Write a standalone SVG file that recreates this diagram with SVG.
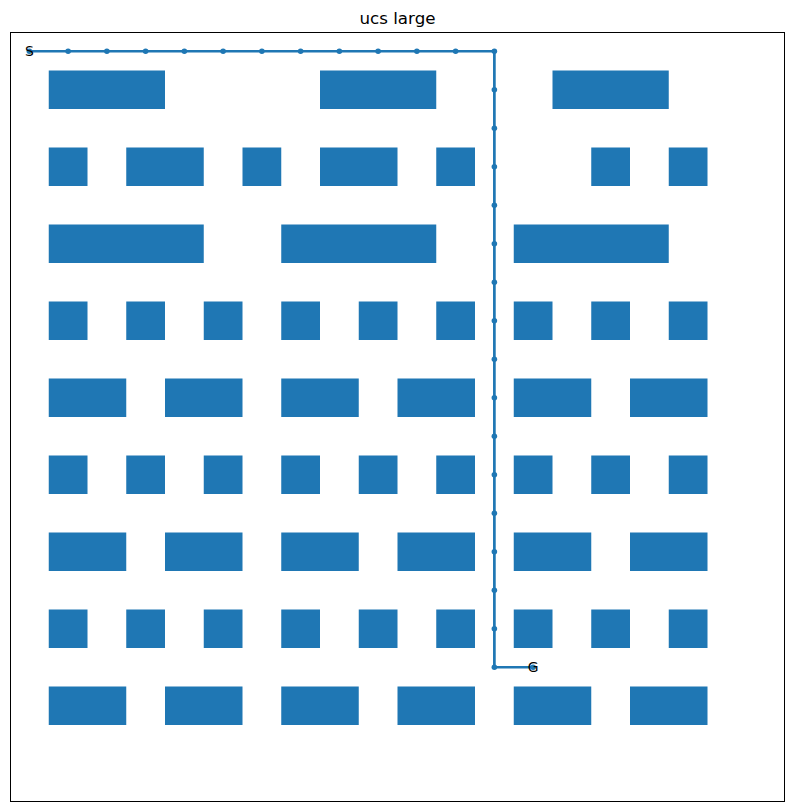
<svg xmlns="http://www.w3.org/2000/svg" xmlns:xlink="http://www.w3.org/1999/xlink" width="794" height="812" viewBox="0 0 794 812">
<style>
.ob{fill:#1f77b4;stroke:none}
.path{fill:none;stroke:#1f77b4;stroke-width:2.7;stroke-linejoin:round;stroke-linecap:square}
.dot{fill:#1f77b4}
.lbl{font-family:"DejaVu Sans",sans-serif;font-size:13.9px;fill:#000;text-anchor:middle;dominant-baseline:central}
.title{font-family:"DejaVu Sans",sans-serif;font-size:16.7px;fill:#000;text-anchor:middle}
</style>
<defs>
<rect id="s1" class="ob" width="38.75" height="38.5"/>
<rect id="s2" class="ob" width="77.5" height="38.5"/>
<rect id="s3" class="ob" width="116.25" height="38.5"/>
<rect id="s4" class="ob" width="155" height="38.5"/>
<circle id="d" class="dot" r="2.8"/>
</defs>
<rect x="0" y="0" width="794" height="812" fill="#fff"/>
<text class="title" x="397.5" y="24">ucs large</text>
<g id="obstacles">
<use xlink:href="#s3" x="48.75" y="70.5"/><use xlink:href="#s3" x="320" y="70.5"/><use xlink:href="#s3" x="552.5" y="70.5"/>
<use xlink:href="#s1" x="48.75" y="147.5"/><use xlink:href="#s2" x="126.25" y="147.5"/><use xlink:href="#s1" x="242.5" y="147.5"/><use xlink:href="#s2" x="320" y="147.5"/><use xlink:href="#s1" x="436.25" y="147.5"/><use xlink:href="#s1" x="591.25" y="147.5"/><use xlink:href="#s1" x="668.75" y="147.5"/>
<use xlink:href="#s4" x="48.75" y="224.5"/><use xlink:href="#s4" x="281.25" y="224.5"/><use xlink:href="#s4" x="513.75" y="224.5"/>
<g id="row7"><use xlink:href="#s1" x="48.75" y="301.5"/><use xlink:href="#s1" x="126.25" y="301.5"/><use xlink:href="#s1" x="203.75" y="301.5"/><use xlink:href="#s1" x="281.25" y="301.5"/><use xlink:href="#s1" x="358.75" y="301.5"/><use xlink:href="#s1" x="436.25" y="301.5"/><use xlink:href="#s1" x="513.75" y="301.5"/><use xlink:href="#s1" x="591.25" y="301.5"/><use xlink:href="#s1" x="668.75" y="301.5"/></g>
<use xlink:href="#row7" y="154"/><use xlink:href="#row7" y="308"/>
<g id="row9"><use xlink:href="#s2" x="48.75" y="378.5"/><use xlink:href="#s2" x="165" y="378.5"/><use xlink:href="#s2" x="281.25" y="378.5"/><use xlink:href="#s2" x="397.5" y="378.5"/><use xlink:href="#s2" x="513.75" y="378.5"/><use xlink:href="#s2" x="630" y="378.5"/></g>
<use xlink:href="#row9" y="154"/><use xlink:href="#row9" y="308"/>
</g>
<g id="connectors">
<polyline class="path" points="29.375,51.25 494.375,51.25 494.375,667.25 533.125,667.25"/>
<g id="dots">
<use xlink:href="#d" x="29.375" y="51.25"/><use xlink:href="#d" x="68.125" y="51.25"/><use xlink:href="#d" x="106.875" y="51.25"/><use xlink:href="#d" x="145.625" y="51.25"/><use xlink:href="#d" x="184.375" y="51.25"/><use xlink:href="#d" x="223.125" y="51.25"/><use xlink:href="#d" x="261.875" y="51.25"/><use xlink:href="#d" x="300.625" y="51.25"/><use xlink:href="#d" x="339.375" y="51.25"/><use xlink:href="#d" x="378.125" y="51.25"/><use xlink:href="#d" x="416.875" y="51.25"/><use xlink:href="#d" x="455.625" y="51.25"/><use xlink:href="#d" x="494.375" y="51.25"/>
<use xlink:href="#d" x="494.375" y="89.75"/><use xlink:href="#d" x="494.375" y="128.25"/><use xlink:href="#d" x="494.375" y="166.75"/><use xlink:href="#d" x="494.375" y="205.25"/><use xlink:href="#d" x="494.375" y="243.75"/><use xlink:href="#d" x="494.375" y="282.25"/><use xlink:href="#d" x="494.375" y="320.75"/><use xlink:href="#d" x="494.375" y="359.25"/><use xlink:href="#d" x="494.375" y="397.75"/><use xlink:href="#d" x="494.375" y="436.25"/><use xlink:href="#d" x="494.375" y="474.75"/><use xlink:href="#d" x="494.375" y="513.25"/><use xlink:href="#d" x="494.375" y="551.75"/><use xlink:href="#d" x="494.375" y="590.25"/><use xlink:href="#d" x="494.375" y="628.75"/><use xlink:href="#d" x="494.375" y="667.25"/><use xlink:href="#d" x="533.125" y="667.25"/>
</g>
</g>
<g id="S"><text class="lbl" x="29.375" y="51.25">S</text></g>
<g id="G"><text class="lbl" x="533.125" y="667.25">G</text></g>
<rect x="10.5" y="32.5" width="774" height="769" fill="none" stroke="#000" stroke-width="1"/>
</svg>
